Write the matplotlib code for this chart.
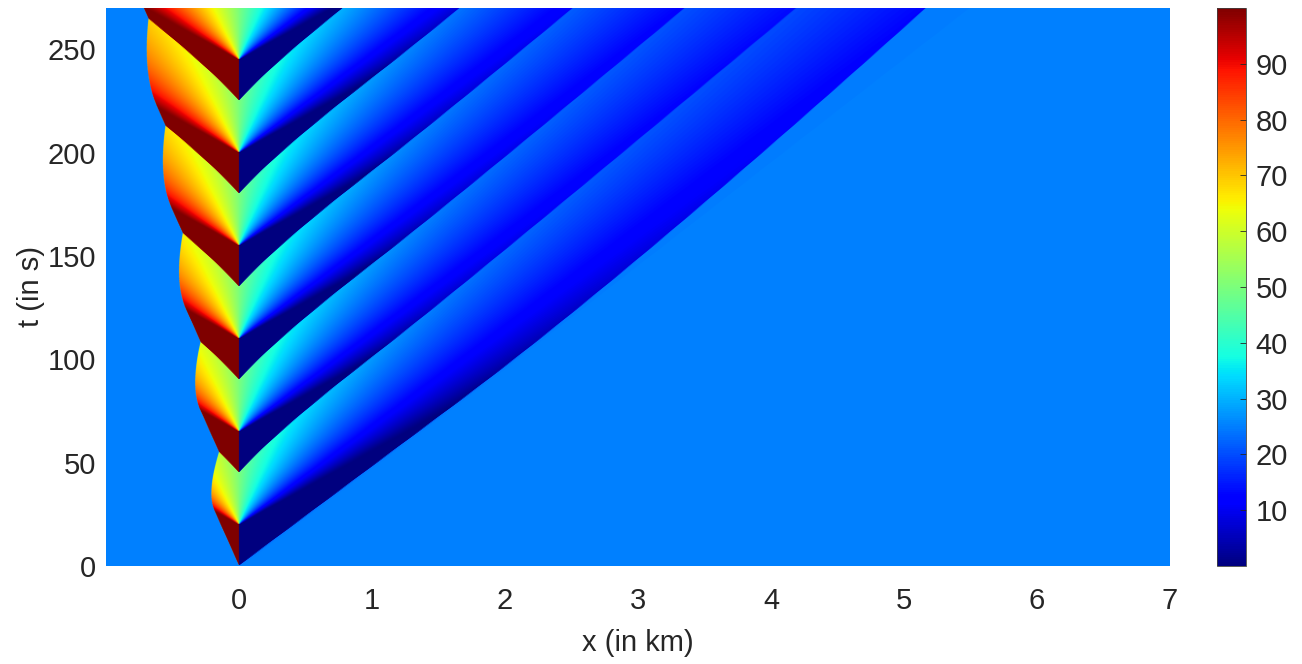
import numpy as np
import matplotlib.pyplot as plt

plt.rcParams['font.family'] = ['Liberation Sans', 'DejaVu Sans']

# LWR model (Greenshields) with a traffic light at x = 0
v_free = 100.0          # km/h
rho_jam = 100.0         # veh/km
rho_init = 25.0         # veh/km, uniform initial density
red_time = 20.0         # s, red phase at the start of each cycle
cycle_time = 45.0       # s
light_pos = 0.0         # km
x_span = [-1.0, 7.0]    # km
t_span = [0.0, 270.0]   # s

x_ticks = [0, 1, 2, 3, 4, 5, 6, 7]
t_ticks = [0, 50, 100, 150, 200, 250]
cbar_ticks = [10, 20, 30, 40, 50, 60, 70, 80, 90]

dx = 0.001                       # km
dt = 0.025                       # s
save_every = 20
v = v_free / 3600.0              # km/s

x_edges = np.arange(x_span[0], x_span[1] + dx / 2, dx)
n_cells = len(x_edges) - 1
light_idx = int(round((light_pos - x_span[0]) / dx))
n_steps = int(round((t_span[1] - t_span[0]) / dt))


def flux(r):
    return v * r * (1.0 - r / rho_jam)


rho_c = rho_jam / 2.0
q_max = flux(rho_c)


def demand(r):
    return np.where(r < rho_c, flux(r), q_max)


def supply(r):
    return np.where(r > rho_c, flux(r), q_max)


# Godunov scheme, zero flux through the light while it is red
rho = np.full(n_cells, rho_init)
frames = [rho.copy()]
for n in range(n_steps):
    t = t_span[0] + n * dt
    ext = np.concatenate(([rho_init], rho, [rho[-1]]))
    F = np.minimum(demand(ext[:-1]), supply(ext[1:]))
    if (t % cycle_time) < red_time:
        F[light_idx] = 0.0
    rho = rho - dt / dx * (F[1:] - F[:-1])
    if (n + 1) % save_every == 0:
        frames.append(rho.copy())

density = np.array(frames)

fig = plt.figure(figsize=(13.02, 6.64), dpi=100)
ax = fig.add_axes([0.0814, 0.1476, 0.8172, 0.8404])
im = ax.imshow(density, origin='lower', aspect='auto', cmap='jet',
               extent=[x_span[0], x_span[1], t_span[0], t_span[1]],
               vmin=0, vmax=rho_jam, interpolation='antialiased')
ax.set_xlim(x_span)
ax.set_ylim(t_span)
ax.set_xticks(x_ticks)
ax.set_yticks(t_ticks)
ax.tick_params(axis='x', length=0, labelsize=21, colors='#262626', pad=15)
ax.tick_params(axis='y', length=0, labelsize=21, colors='#262626', pad=7)
for s in ax.spines.values():
    s.set_visible(False)
ax.set_xlabel('x (in km)', fontsize=21, color='#262626', labelpad=10)
ax.set_ylabel('t (in s)', fontsize=21, color='#262626', labelpad=2)

cax = fig.add_axes([0.9347, 0.1476, 0.0223, 0.8404])
cb = fig.colorbar(im, cax=cax, ticks=cbar_ticks)
cb.ax.tick_params(direction='in', length=4, width=0.6, labelsize=21,
                  colors='#262626', pad=7)
cb.outline.set_edgecolor('#404040')
cb.outline.set_linewidth(0.6)

fig.savefig('out.png', dpi=100)
